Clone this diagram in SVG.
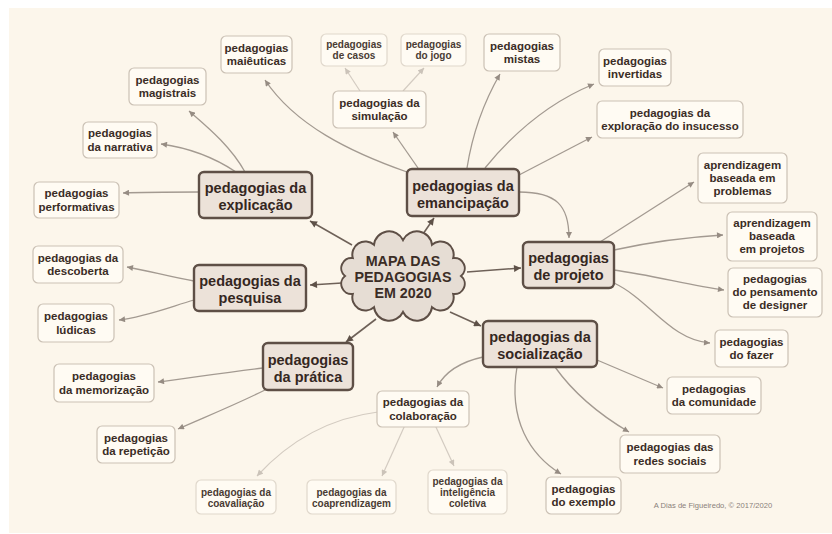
<svg xmlns="http://www.w3.org/2000/svg" width="832" height="534" viewBox="0 0 832 534">
<defs>
<style>
text{font-family:"Liberation Sans",Arial,sans-serif;font-weight:bold;text-anchor:middle;fill:#3b2d26}
.leaf rect{fill:#fffbf3;stroke:#cbc1b5;stroke-width:1.2}
.lite rect{fill:#fffbf3;stroke:#e0d8cc;stroke-width:1.2}
.main rect{fill:#ece2d9;stroke:#5e4f46;stroke-width:2.4}
.leaf text{font-size:11.5px}
.lite text{font-size:10px;fill:#4a3b33}
.main text{font-size:14.5px;fill:#35271f}
.c0{fill:none;stroke:#6e6158;stroke-width:1.6}
.c1{fill:none;stroke:#a39a91;stroke-width:1.3}
.c2{fill:none;stroke:#d3cbc1;stroke-width:1.2}
</style>
<marker id="a0" viewBox="0 0 10 10" refX="10" refY="5" markerWidth="8" markerHeight="7" markerUnits="userSpaceOnUse" orient="auto"><path d="M0,0 L10,5 L0,10 z" fill="#5e5148"/></marker>
<marker id="a1" viewBox="0 0 10 10" refX="10" refY="5" markerWidth="7" markerHeight="6" markerUnits="userSpaceOnUse" orient="auto"><path d="M0,0 L10,5 L0,10 z" fill="#968c83"/></marker>
<marker id="a2" viewBox="0 0 10 10" refX="10" refY="5" markerWidth="7" markerHeight="6" markerUnits="userSpaceOnUse" orient="auto"><path d="M0,0 L10,5 L0,10 z" fill="#cbc3b9"/></marker>
</defs>
<rect x="0" y="0" width="832" height="534" fill="#ffffff"/>
<rect x="9" y="8" width="823" height="525" fill="#fcf6eb"/>

<g id="connectors">
<g marker-end="url(#a0)">
<path class="c0" d="M352,245 L310,221"/>
<path class="c0" d="M423,234 L434,218"/>
<path class="c0" d="M342,283 L310,285"/>
<path class="c0" d="M467,272 L521,268"/>
<path class="c0" d="M376,319 L346,342"/>
<path class="c0" d="M450,312 L481,326"/>
</g>
<g marker-end="url(#a1)">
<path class="c1" d="M245,172 C230,145 205,125 189,111"/>
<path class="c1" d="M236,172 C215,158 190,148 161,144"/>
<path class="c1" d="M199,192 C170,192 145,192 123,193"/>
<path class="c1" d="M407,172 C350,152 295,125 265,80"/>
<path class="c1" d="M418,168 L393,132"/>
<path class="c1" d="M467,168 C473,130 485,100 500,74"/>
<path class="c1" d="M485,168 C520,125 555,100 594,84"/>
<path class="c1" d="M519,175 L592,137"/>
<path class="c1" d="M519,192 C556,192 569,205 569,238"/>
<path class="c1" d="M600,242 L694,182"/>
<path class="c1" d="M614,250 C650,242 690,237 723,235"/>
<path class="c1" d="M614,270 C650,275 690,285 724,290"/>
<path class="c1" d="M614,283 C650,300 670,340 710,343"/>
<path class="c1" d="M483,357 C460,362 445,372 437,387"/>
<path class="c1" d="M517,367 C508,420 530,455 561,474"/>
<path class="c1" d="M555,367 C575,395 600,415 629,432"/>
<path class="c1" d="M597,360 L663,388"/>
<path class="c1" d="M263,368 C220,373 190,378 158,382"/>
<path class="c1" d="M265,390 C235,405 205,417 178,429"/>
<path class="c1" d="M194,281 C170,277 150,271 127,267"/>
<path class="c1" d="M194,300 C170,307 145,317 119,320"/>
</g>
<g marker-end="url(#a2)">
<path class="c2" d="M360,91 L345,68"/>
<path class="c2" d="M403,91 L424,68"/>
<path class="c2" d="M378,412 C330,418 290,440 257,476"/>
<path class="c2" d="M405,425 L382,476"/>
<path class="c2" d="M435,425 L454,466"/>
</g>
</g>

<g id="mapa">
<path d="M461,276 A10.2,10.2 0 0 1 453.2,294 A13,13 0 0 1 432,307.2 A15.3,15.3 0 0 1 403,312 A15.3,15.3 0 0 1 374,307.2 A13,13 0 0 1 352.8,294 A10.2,10.2 0 0 1 345,276 A10.2,10.2 0 0 1 352.8,258 A13,13 0 0 1 374,244.8 A15.3,15.3 0 0 1 403,240 A15.3,15.3 0 0 1 432,244.8 A13,13 0 0 1 453.2,258 A10.2,10.2 0 0 1 461,276 Z" fill="#e6ddd4" stroke="#5e4f46" stroke-width="2"/>
<text x="403" y="266" font-size="14.3">MAPA DAS</text>
<text x="403" y="282" font-size="14.3">PEDAGOGIAS</text>
<text x="403" y="298" font-size="14.3">EM 2020</text>
</g>

<g id="explicacao" class="main"><rect x="199" y="172" width="113" height="46" rx="5"/><text x="255.5" y="193">pedagogias da</text><text x="255.5" y="210">explicação</text></g>
<g id="emancipacao" class="main"><rect x="407" y="169" width="112" height="47" rx="5"/><text x="463" y="190.5">pedagogias da</text><text x="463" y="207.5">emancipação</text></g>
<g id="pesquisa" class="main"><rect x="194" y="265" width="112" height="46" rx="5"/><text x="250" y="286">pedagogias da</text><text x="250" y="303">pesquisa</text></g>
<g id="projeto" class="main"><rect x="523" y="242" width="91" height="46" rx="5"/><text x="568.5" y="263">pedagogias</text><text x="568.5" y="280">de projeto</text></g>
<g id="pratica" class="main"><rect x="263" y="343" width="90" height="47" rx="5"/><text x="308" y="364.5">pedagogias</text><text x="308" y="381.5">da prática</text></g>
<g id="socializacao" class="main"><rect x="483" y="321" width="114" height="46" rx="5"/><text x="540" y="342">pedagogias da</text><text x="540" y="359">socialização</text></g>

<g id="maieuticas" class="leaf"><rect x="221" y="36" width="71" height="37" rx="5"/><text x="256.5" y="51.5">pedagogias</text><text x="256.5" y="65">maiêuticas</text></g>
<g id="magistrais" class="leaf"><rect x="129" y="68" width="77" height="37" rx="5"/><text x="167.5" y="83.5">pedagogias</text><text x="167.5" y="97">magistrais</text></g>
<g id="narrativa" class="leaf"><rect x="83" y="122" width="74" height="36" rx="5"/><text x="120" y="137">pedagogias</text><text x="120" y="150.5">da narrativa</text></g>
<g id="performativas" class="leaf"><rect x="34" y="182" width="85" height="36" rx="5"/><text x="76.5" y="197">pedagogias</text><text x="76.5" y="210.5">performativas</text></g>
<g id="simulacao" class="leaf"><rect x="333" y="91" width="93" height="37" rx="5"/><text x="379.5" y="106.5">pedagogias da</text><text x="379.5" y="120">simulação</text></g>
<g id="mistas" class="leaf"><rect x="484" y="34" width="76" height="37" rx="5"/><text x="522" y="49.5">pedagogias</text><text x="522" y="63">mistas</text></g>
<g id="invertidas" class="leaf"><rect x="599" y="49" width="72" height="37" rx="5"/><text x="635" y="64.5">pedagogias</text><text x="635" y="78">invertidas</text></g>
<g id="insucesso" class="leaf"><rect x="597" y="101" width="146" height="37" rx="5"/><text x="670" y="116.5">pedagogias da</text><text x="670" y="130">exploração do insucesso</text></g>
<g id="problemas" class="leaf"><rect x="698" y="153" width="89" height="50" rx="5"/><text x="742.5" y="168.5">aprendizagem</text><text x="742.5" y="181.5">baseada em</text><text x="742.5" y="194.5">problemas</text></g>
<g id="projetos" class="leaf"><rect x="727" y="212" width="90" height="49" rx="5"/><text x="772" y="227">aprendizagem</text><text x="772" y="240">baseada</text><text x="772" y="253">em projetos</text></g>
<g id="designer" class="leaf"><rect x="728" y="268" width="94" height="49" rx="5"/><text x="775" y="283">pedagogias</text><text x="775" y="296">do pensamento</text><text x="775" y="309">de designer</text></g>
<g id="fazer" class="leaf"><rect x="715" y="330" width="73" height="37" rx="5"/><text x="751.5" y="345.5">pedagogias</text><text x="751.5" y="359">do fazer</text></g>
<g id="comunidade" class="leaf"><rect x="667" y="377" width="94" height="37" rx="5"/><text x="714" y="392.5">pedagogias</text><text x="714" y="406">da comunidade</text></g>
<g id="redes" class="leaf"><rect x="620" y="435" width="100" height="38" rx="5"/><text x="670" y="451">pedagogias das</text><text x="670" y="464.5">redes sociais</text></g>
<g id="exemplo" class="leaf"><rect x="546" y="477" width="75" height="37" rx="5"/><text x="583.5" y="492.5">pedagogias</text><text x="583.5" y="506">do exemplo</text></g>
<g id="colaboracao" class="leaf"><rect x="377" y="391" width="92" height="36" rx="5"/><text x="423" y="406">pedagogias da</text><text x="423" y="419.5">colaboração</text></g>
<g id="repeticao" class="leaf"><rect x="97" y="426" width="78" height="37" rx="5"/><text x="136" y="441.5">pedagogias</text><text x="136" y="455">da repetição</text></g>
<g id="memorizacao" class="leaf"><rect x="54" y="364" width="100" height="38" rx="5"/><text x="104" y="380">pedagogias</text><text x="104" y="393.5">da memorização</text></g>
<g id="descoberta" class="leaf"><rect x="33" y="246" width="90" height="37" rx="5"/><text x="78" y="261.5">pedagogias da</text><text x="78" y="275">descoberta</text></g>
<g id="ludicas" class="leaf"><rect x="38" y="304" width="76" height="38" rx="5"/><text x="76" y="320">pedagogias</text><text x="76" y="333.5">lúdicas</text></g>

<g id="casos" class="lite"><rect x="321" y="34" width="66" height="32" rx="5"/><text x="354" y="48">pedagogias</text><text x="354" y="59">de casos</text></g>
<g id="jogo" class="lite"><rect x="401" y="34" width="65" height="32" rx="5"/><text x="433.5" y="48">pedagogias</text><text x="433.5" y="59">do jogo</text></g>
<g id="coavaliacao" class="lite"><rect x="196" y="480" width="80" height="34" rx="5"/><text x="236" y="495.5">pedagogias da</text><text x="236" y="506.5">coavaliação</text></g>
<g id="coaprendizagem" class="lite"><rect x="307" y="480" width="89" height="34" rx="5"/><text x="351.5" y="495.5">pedagogias da</text><text x="351.5" y="506.5">coaprendizagem</text></g>
<g id="inteligencia" class="lite"><rect x="428" y="470" width="79" height="44" rx="5"/><text x="467.5" y="484.5">pedagogias da</text><text x="467.5" y="495.5">inteligência</text><text x="467.5" y="506.5">coletiva</text></g>

<text x="713" y="508" font-size="7.6" style="font-weight:normal;fill:#8a817a">A Dias de Figueiredo, © 2017/2020</text>
</svg>
